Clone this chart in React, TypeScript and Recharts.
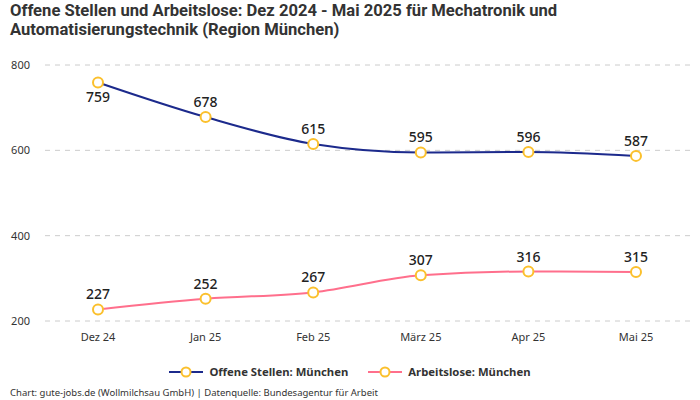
import React from "react";
import { LineChart, Line, XAxis, YAxis, CartesianGrid, LabelList } from "recharts";

const months = ["Dez 24", "Jan 25", "Feb 25", "März 25", "Apr 25", "Mai 25"];
const offeneStellen = [759, 678, 615, 595, 596, 587];
const arbeitslose = [227, 252, 267, 307, 316, 315];
const yTicks = [200, 400, 600, 800];

const NAVY = "#1c2a8c";
const PINK = "#ff6f8c";
const DOT = "#fbc02d";
const FONT = "'Noto Sans', 'Open Sans', sans-serif";

const data = months.map((m, i) => ({
  name: m,
  offen: offeneStellen[i],
  arbeitslos: arbeitslose[i],
}));

const dotStyle = { r: 5, fill: "#fff", stroke: DOT, strokeWidth: 2 };

// first point of the upper line gets its label below the dot
const offenLabel = (props: any) => {
  const { x, y, value, index } = props;
  const dy = index === 0 ? 20 : -10;
  return (
    <text x={x} y={y + dy} textAnchor="middle" fontSize={14} fontWeight={500} fill="#222" fontFamily={FONT}>
      {value}
    </text>
  );
};

const legendItem = (color: string, label: string) => (
  <div style={{ display: "flex", alignItems: "center", gap: 6 }}>
    <svg width={34} height={12}>
      <line x1={0} y1={6} x2={34} y2={6} stroke={color} strokeWidth={2} />
      <circle cx={17} cy={6} r={4.5} fill="#fff" stroke={DOT} strokeWidth={2} />
    </svg>
    <span>{label}</span>
  </div>
);

export default function App() {
  return (
    <div style={{ position: "absolute", left: 0, top: 0, width: 700, height: 400, background: "#fff", fontFamily: FONT }}>
      <div
        style={{
          position: "absolute",
          left: 10,
          top: 1,
          fontFamily: "Roboto, sans-serif",
          fontWeight: 700,
          fontSize: 16.6,
          lineHeight: "19px",
          color: "#333",
        }}
      >
        Offene Stellen und Arbeitslose: Dez 2024 - Mai 2025 für Mechatronik und
        <br />
        Automatisierungstechnik (Region München)
      </div>
      <div style={{ position: "absolute", left: 0, top: 0 }}>
        <LineChart width={700} height={351} data={data} margin={{ top: 65, right: 10, left: 0, bottom: 0 }}>
          <CartesianGrid vertical={false} stroke="#cccccc" strokeDasharray="5 5" />
          <XAxis
            dataKey="name"
            axisLine={false}
            tickLine={false}
            padding={{ left: 53, right: 54 }}
            tick={{ fontSize: 11, fill: "#333", fontFamily: FONT }}
            height={30}
            tickMargin={6}
          />
          <YAxis
            domain={[200, 800]}
            ticks={yTicks}
            axisLine={false}
            tickLine={false}
            width={45}
            tickMargin={9}
            tick={{ fontSize: 11, fill: "#333", fontFamily: FONT }}
          />
          <Line
            type="monotone"
            dataKey="offen"
            stroke={NAVY}
            strokeWidth={2}
            dot={dotStyle}
            isAnimationActive={false}
          >
            <LabelList dataKey="offen" content={offenLabel} />
          </Line>
          <Line
            type="monotone"
            dataKey="arbeitslos"
            stroke={PINK}
            strokeWidth={2}
            dot={dotStyle}
            isAnimationActive={false}
          >
            <LabelList dataKey="arbeitslos" position="top" offset={10} fontSize={14} fontWeight={500} fill="#222" fontFamily={FONT} />
          </Line>
        </LineChart>
      </div>
      <div
        style={{
          position: "absolute",
          left: 0,
          width: 700,
          top: 364,
          display: "flex",
          justifyContent: "center",
          gap: 20,
          fontSize: 11.3,
          fontWeight: 700,
          color: "#333",
          boxSizing: "border-box",
        }}
      >
        {legendItem(NAVY, "Offene Stellen: München")}
        {legendItem(PINK, "Arbeitslose: München")}
      </div>
      <div style={{ position: "absolute", left: 10, top: 386, fontSize: 9.5, color: "#333" }}>
        Chart: gute-jobs.de (Wollmilchsau GmbH) | Datenquelle: Bundesagentur für Arbeit
      </div>
    </div>
  );
}
